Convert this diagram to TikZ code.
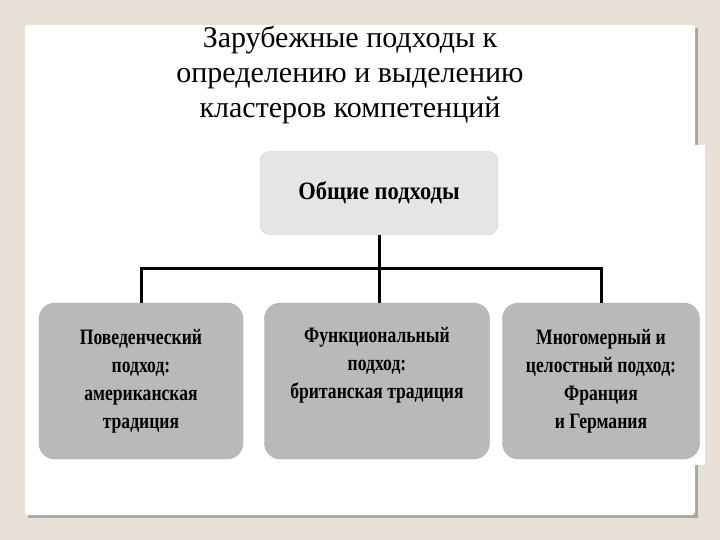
\documentclass[tikz,border=0pt]{standalone}
\usepackage{fontspec}
\setmainfont{Liberation Serif}
\begin{document}
\begin{tikzpicture}[x=1pt,y=-1pt,
  topbox/.style={draw=gray!40,fill=gray!20,rounded corners=10pt,minimum width=238pt,minimum height=83pt,font=\bfseries\fontsize{25}{28}\selectfont},
  lowbox/.style={draw=gray!70,fill=gray!55,rounded corners=16pt,minimum height=156pt,align=center,font=\bfseries\fontsize{22}{28}\selectfont},
  link/.style={line width=3pt}]
\fill[fill={rgb,255:red,230;green,224;blue,214}] (0,0) rectangle (720,540);
\useasboundingbox (0,0) rectangle (720,540);
\fill[gray!70] (28,28) rectangle (698,518);
\fill[white,rounded corners=3pt] (25,25) rectangle (695,515);
\fill[white] (35,145) rectangle (705,465);
\node[align=center,font=\fontsize{30}{35}\selectfont] (title) at (350,75) {Зарубежные подходы к\\определению и выделению\\кластеров компетенций};
\node[topbox] (top) at (379,193) {\scalebox{0.9}[1]{Общие подходы}};
\node[lowbox,minimum width=204pt] (b1) at (141,381) {\scalebox{0.8}[1]{Поведенческий}\\\scalebox{0.8}[1]{подход:}\\\scalebox{0.8}[1]{американская}\\\scalebox{0.8}[1]{традиция}};
\node[lowbox,minimum width=225pt] (b2) at (377,381) {\scalebox{0.8}[1]{Функциональный}\\\scalebox{0.8}[1]{подход:}\\\scalebox{0.8}[1]{британская традиция}\\\strut};
\node[lowbox,minimum width=197pt] (b3) at (601,381) {\scalebox{0.8}[1]{Многомерный и}\\\scalebox{0.8}[1]{целостный подход:}\\\scalebox{0.8}[1]{Франция}\\\scalebox{0.8}[1]{и Германия}};
\coordinate (j) at (379,268);
\draw[link] (top.south) -- (j);
\draw[link] (b1.north) |- (j) -| (b3.north);
\draw[link] (j) -- (j|-b2.north);
\end{tikzpicture}
\end{document}
